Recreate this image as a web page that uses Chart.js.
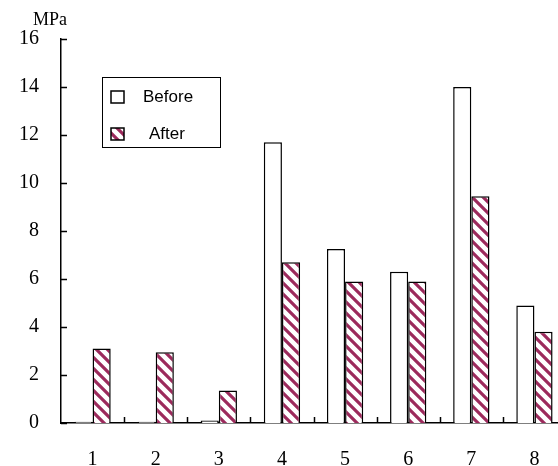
<!DOCTYPE html>
<html>
<head>
<meta charset="utf-8">
<script src="https://cdn.jsdelivr.net/npm/chart.js@4.4.1/dist/chart.umd.min.js"></script>
<style>
  html, body { margin: 0; padding: 0; background: #fff; overflow: hidden; }
  #wrap { width: 566px; height: 466px; }
</style>
</head>
<body>
<div id="wrap"><canvas id="chart"></canvas></div>
<script>
const categories = ["1", "2", "3", "4", "5", "6", "7", "8"];
const beforeValues = [0.05, 0.05, 0.1, 11.7, 7.25, 6.3, 14.0, 4.9];
const afterValues = [3.1, 2.95, 1.35, 6.7, 5.9, 5.9, 9.45, 3.8];
const yTicks = [0, 2, 4, 6, 8, 10, 12, 14, 16];
const unitLabel = "MPa";

const stripe = "#9c2a5c";

function makeHatch() {
  const size = 11;
  const c = document.createElement("canvas");
  c.width = size;
  c.height = size;
  const g = c.getContext("2d");
  g.fillStyle = "#fff";
  g.fillRect(0, 0, size, size);
  g.strokeStyle = stripe;
  g.lineWidth = 3.2;
  g.beginPath();
  g.moveTo(-2, -2);
  g.lineTo(size + 2, size + 2);
  g.moveTo(-2, size - 2);
  g.lineTo(2, size + 2);
  g.moveTo(size - 2, -2);
  g.lineTo(size + 2, 2);
  g.stroke();
  return g.createPattern(c, "repeat");
}

const ctxEl = document.getElementById("chart");
const hatch = makeHatch();

// inward tick marks, unit label and the boxed legend
const extras = {
  id: "extras",
  afterDraw(chart) {
    const { ctx, scales } = chart;
    const x = scales.x, y = scales.y;
    ctx.save();
    ctx.strokeStyle = "#000";
    ctx.lineWidth = 1.5;
    ctx.beginPath();
    yTicks.forEach((v) => {
      const py = Math.round(y.getPixelForValue(v)) + 0.5;
      ctx.moveTo(x.left, py);
      ctx.lineTo(x.left + 6, py);
    });
    for (let i = 1; i < categories.length; i++) {
      const px = Math.round((x.getPixelForValue(i - 1) + x.getPixelForValue(i)) / 2) + 0.5;
      ctx.moveTo(px, y.bottom);
      ctx.lineTo(px, y.bottom - 6);
    }
    ctx.stroke();

    ctx.fillStyle = "#000";
    ctx.font = "18px 'Liberation Serif'";
    ctx.textBaseline = "middle";
    ctx.textAlign = "left";
    ctx.fillText(unitLabel, 33, 20);

    // legend
    ctx.lineWidth = 1;
    ctx.strokeRect(102.5, 77.5, 118, 70);
    const items = chart.data.datasets;
    const rows = [97, 134];
    const textX = [143, 149];
    ctx.font = "17px 'Liberation Sans'";
    items.forEach((ds, i) => {
      ctx.fillStyle = ds.backgroundColor;
      ctx.fillRect(111, rows[i] - 6, 13, 12);
      ctx.lineWidth = 1.5;
      ctx.strokeRect(111, rows[i] - 6, 13, 12);
      ctx.fillStyle = "#000";
      ctx.fillText(ds.label, textX[i], rows[i]);
    });
    ctx.restore();
  },
};

new Chart(ctxEl, {
  type: "bar",
  data: {
    labels: categories,
    datasets: [
      {
        label: "Before",
        data: beforeValues,
        backgroundColor: "#fff",
        borderColor: "#000",
        borderWidth: 1.5,
        borderSkipped: "bottom",
      },
      {
        label: "After",
        data: afterValues,
        backgroundColor: hatch,
        borderColor: "#000",
        borderWidth: 1.5,
        borderSkipped: "bottom",
      },
    ],
  },
  options: {
    responsive: true,
    maintainAspectRatio: false,
    animation: false,
    layout: { padding: { top: 39, right: 0, left: 0, bottom: 0 } },
    plugins: {
      legend: { display: false },
      tooltip: { enabled: false },
    },
    datasets: {
      bar: { categoryPercentage: 0.575, barPercentage: 1.0 },
    },
    scales: {
      x: {
        grid: { display: false, drawTicks: false },
        border: { display: true, color: "#000", width: 1.5 },
        ticks: {
          color: "#000",
          padding: 25,
          font: { family: "Liberation Serif", size: 20 },
        },
        afterFit(scale) {
          scale.height = 43;
        },
      },
      y: {
        min: 0,
        max: 16,
        grid: { display: false, drawTicks: false },
        border: { display: true, color: "#000", width: 1.5 },
        ticks: {
          stepSize: 2,
          color: "#000",
          padding: 22,
          font: { family: "Liberation Serif", size: 20 },
        },
        afterFit(scale) {
          scale.width = 61;
        },
      },
    },
  },
  plugins: [extras],
});
</script>
</body>
</html>
